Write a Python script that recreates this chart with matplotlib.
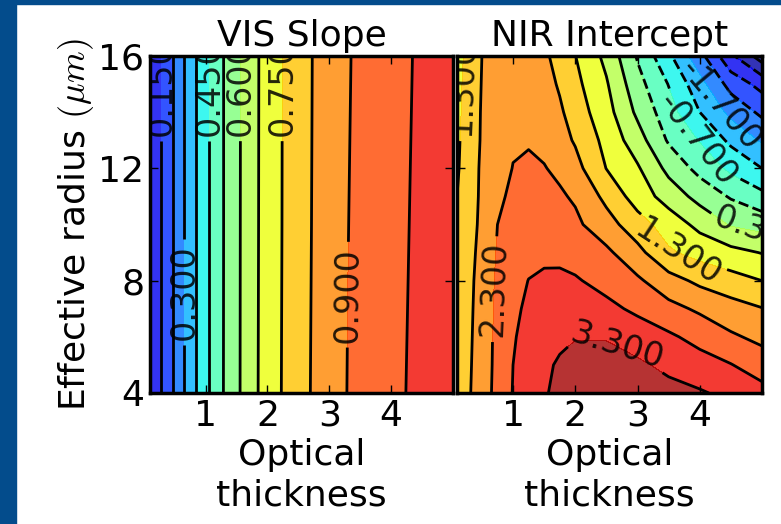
import numpy as np
import matplotlib.pyplot as plt
from matplotlib.patches import Rectangle

# values
vis_tau = [0.1, 0.3, 0.5, 0.7, 0.9, 1.1, 1.3, 1.6, 1.9, 2.25, 2.75, 3.3, 3.9, 4.4, 5.0]
vis_re = [4, 10, 16]
vis_slope = [
    [0.09, 0.158, 0.237, 0.320, 0.396, 0.466, 0.529, 0.612, 0.688, 0.755, 0.834, 0.902, 0.950, 0.987, 1.028],
    [0.09, 0.158, 0.237, 0.320, 0.396, 0.466, 0.528, 0.611, 0.686, 0.753, 0.831, 0.899, 0.946, 0.983, 1.024],
    [0.09, 0.158, 0.237, 0.320, 0.396, 0.466, 0.528, 0.610, 0.685, 0.752, 0.829, 0.896, 0.943, 0.979, 1.020],
]

nir_tau = [0.1, 0.3, 0.5, 0.75, 1.0, 1.25, 1.5, 1.75, 2.0, 2.5, 3.0, 3.5, 4.0, 4.5, 5.0]
nir_re = [4, 5, 6, 7, 8, 9, 10, 11, 12, 13, 14, 15, 16]
nir_intercept = [
    [1.62, 1.77, 2.06, 2.45, 2.82, 3.05, 3.27, 3.38, 3.48, 3.60, 3.55, 3.45, 3.35, 3.18, 2.97],
    [1.60, 1.75, 2.05, 2.43, 2.80, 3.01, 3.21, 3.36, 3.45, 3.48, 3.38, 3.19, 3.00, 2.82, 2.55],
    [1.55, 1.73, 2.04, 2.42, 2.76, 2.95, 3.10, 3.20, 3.28, 3.27, 3.08, 2.88, 2.64, 2.37, 2.18],
    [1.50, 1.72, 2.00, 2.40, 2.71, 2.88, 2.97, 3.02, 3.02, 2.93, 2.70, 2.45, 2.22, 2.00, 1.82],
    [1.45, 1.69, 2.00, 2.38, 2.60, 2.81, 2.88, 2.90, 2.85, 2.63, 2.38, 1.99, 1.69, 1.49, 1.30],
    [1.40, 1.66, 1.95, 2.34, 2.55, 2.65, 2.70, 2.68, 2.60, 2.40, 1.95, 1.37, 1.13, 0.95, 0.78],
    [1.35, 1.63, 1.90, 2.30, 2.45, 2.53, 2.55, 2.50, 2.40, 2.00, 1.51, 1.08, 0.66, 0.26, 0.11],
    [1.30, 1.60, 1.88, 2.24, 2.36, 2.42, 2.41, 2.36, 2.24, 1.67, 1.07, 0.59, 0.13, -0.25, -0.56],
    [1.25, 1.55, 1.88, 2.15, 2.31, 2.34, 2.32, 2.21, 1.97, 1.29, 0.86, 0.16, -0.36, -0.81, -1.20],
    [1.23, 1.52, 1.85, 2.12, 2.26, 2.28, 2.20, 1.98, 1.75, 1.15, 0.52, -0.26, -0.73, -1.31, -1.76],
    [1.20, 1.50, 1.84, 2.08, 2.22, 2.20, 2.08, 1.88, 1.56, 0.99, 0.20, -0.49, -1.20, -1.83, -2.31],
    [1.18, 1.48, 1.82, 2.06, 2.20, 2.15, 2.00, 1.74, 1.43, 0.85, -0.02, -0.72, -1.52, -2.39, -2.87],
    [1.15, 1.44, 1.80, 2.05, 2.18, 2.10, 1.90, 1.60, 1.31, 0.67, -0.25, -1.10, -2.03, -3.10, -3.95],
]

vis_levels = np.arange(0.0, 1.126, 0.075)
vis_labeled = vis_levels[2::2]
nir_levels = np.arange(-4.2, 3.81, 0.5)
nir_labeled = nir_levels[1::2]

vis_label_pos = [(0.28, 14.85), (0.65, 7.6), (1.05, 14.85), (1.56, 14.85), (2.24, 14.85), (3.33, 7.5)]
nir_label_pos = [(0.2, 14.85), (0.66, 7.7), (2.7, 5.8), (3.6, 8.9), (4.97, 9.8), (3.95, 13.0), (4.3, 14.2)]

plt.rcParams['font.family'] = 'DejaVu Sans'
plt.rcParams['xtick.direction'] = 'in'
plt.rcParams['ytick.direction'] = 'in'

fig = plt.figure(figsize=(7.81, 5.24), dpi=100)
fig.patches.append(Rectangle((0, 0), 16 / 781, 1, transform=fig.transFigure, color='#034c8c', zorder=-1))
fig.patches.append(Rectangle((0, 1 - 4 / 524), 1, 4 / 524, transform=fig.transFigure, color='#034c8c', zorder=-1))

ax1 = fig.add_axes([150 / 781, 131 / 524, 303 / 781, 337 / 524])
ax2 = fig.add_axes([457 / 781, 131 / 524, 305 / 781, 337 / 524])


def panel(ax, tau, re, z, levels, lab_levels, lab_pos, vmin, vmax, title):
    z = np.array(z)
    ax.contourf(tau, re, z, levels=levels, cmap='jet', vmin=vmin, vmax=vmax, alpha=0.8)
    plain = [lv for lv in levels if not np.isclose(lab_levels, lv).any()]
    ax.contour(tau, re, z, levels=plain, colors='k', linewidths=2.0)
    cs = ax.contour(tau, re, z, levels=lab_levels, colors='k', linewidths=2.0)
    txt = ax.clabel(cs, manual=lab_pos, fmt='%1.3f', fontsize=24, inline=True)
    for t in txt:
        t.set_clip_on(True)
        t.set_clip_path(ax.patch)
        t.set_alpha(0.85)
        if abs(t.get_rotation() - 270) < 5 or abs(t.get_rotation() + 90) < 5:
            t.set_rotation(90)
    ax.set_xlim(0.1, 5.0)
    ax.set_ylim(4, 16)
    ax.set_xticks([1, 2, 3, 4])
    ax.set_yticks([4, 8, 12, 16])
    ax.tick_params(labelsize=26, top=True, right=True, length=6, width=1, pad=4)
    for s in ax.spines.values():
        s.set_linewidth(2.5)
    ax.set_title(title, fontsize=26, pad=7)
    ax.set_xlabel('Optical\nthickness', fontsize=26, linespacing=1.25)


panel(ax1, vis_tau, vis_re, vis_slope, vis_levels, vis_labeled, vis_label_pos, 0.0, 1.125, 'VIS Slope')
panel(ax2, nir_tau, nir_re, nir_intercept, nir_levels, nir_labeled, nir_label_pos, -3.7, 3.8, 'NIR Intercept')

ax1.set_ylabel('Effective radius $(\\mu m)$', fontsize=26, labelpad=2, math_fontfamily='cm')
ax2.set_yticklabels([])

fig.savefig('out.png', dpi=100)
